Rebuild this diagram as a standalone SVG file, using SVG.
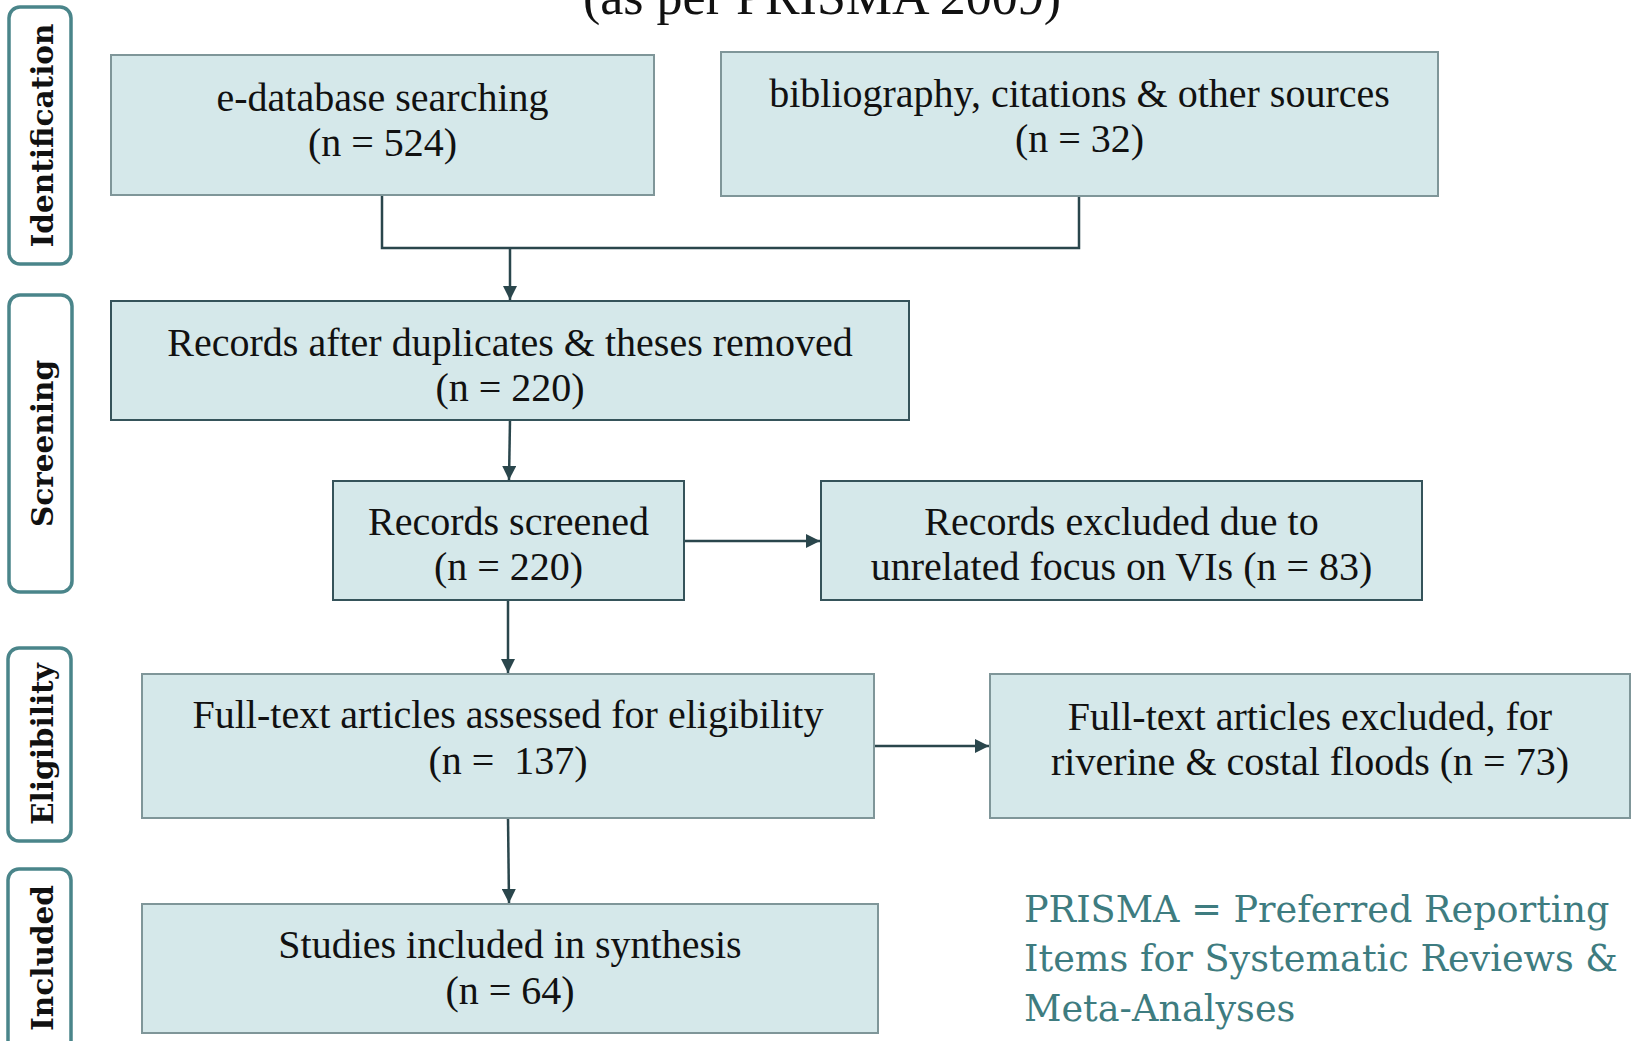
<svg xmlns="http://www.w3.org/2000/svg" width="1633" height="1041" viewBox="0 0 1633 1041">
<style>
  .bg { fill: #ffffff; }
  .box { fill: #d5e8ea; stroke-width: 2; }
  .g { stroke: #7f9699; }
  .d { stroke: #35535a; }
  .t { font-family: "Liberation Serif", "Times New Roman", serif; font-size: 40px; fill: #111111; text-anchor: middle; white-space: pre; }
  .stage { fill: #ffffff; stroke: #4a858a; stroke-width: 3.5; }
  .st { font-family: "DejaVu Serif", Georgia, serif; font-weight: bold; font-size: 29.5px; fill: #111111; text-anchor: middle; }
  .title { font-family: "Liberation Serif", "Times New Roman", serif; font-size: 52px; fill: #111111; text-anchor: middle; }
  .note { font-family: "DejaVu Serif", Georgia, serif; font-size: 36.6px; fill: #3e7c80; }
  .c { fill: none; stroke: #2a464c; stroke-width: 2.5; }
</style>
<defs>
  <marker id="ah" viewBox="0 0 10 10" refX="10" refY="5" markerWidth="6" markerHeight="5.6" markerUnits="strokeWidth" orient="auto">
    <path d="M0,0 L10,5 L0,10 z" fill="#2a464c"/>
  </marker>
</defs>
<rect class="bg" x="0" y="0" width="1633" height="1041"/>

<text class="title" x="822" y="14">(as per PRISMA 2009)</text>

<g id="stage-identification">
  <rect class="stage" x="9" y="7" width="62" height="257" rx="11"/>
  <text class="st" transform="translate(52.5,135.5) rotate(-90)">Identification</text>
</g>
<g id="stage-screening">
  <rect class="stage" x="9" y="295" width="63" height="297" rx="11"/>
  <text class="st" transform="translate(52.5,443.5) rotate(-90)">Screening</text>
</g>
<g id="stage-eligibility">
  <rect class="stage" x="8" y="648" width="63" height="193" rx="11"/>
  <text class="st" transform="translate(52.5,744) rotate(-90)">Eligibility</text>
</g>
<g id="stage-included">
  <rect class="stage" x="8" y="869" width="63" height="185" rx="11"/>
  <text class="st" transform="translate(52.5,958) rotate(-90)">Included</text>
</g>

<g id="connectors">
  <polyline class="c" points="382,195 382,248 1079,248 1079,196"/>
  <line class="c" x1="510" y1="248" x2="510" y2="300" marker-end="url(#ah)"/>
  <line class="c" x1="510" y1="420" x2="509" y2="480" marker-end="url(#ah)"/>
  <line class="c" x1="508" y1="600" x2="508" y2="673" marker-end="url(#ah)"/>
  <line class="c" x1="508" y1="818" x2="509" y2="903" marker-end="url(#ah)"/>
  <line class="c" x1="684" y1="541" x2="820" y2="541" marker-end="url(#ah)"/>
  <line class="c" x1="874" y1="746" x2="989" y2="746" marker-end="url(#ah)"/>
</g>

<g id="node-edatabase">
  <rect class="box g" x="111" y="55" width="543" height="140"/>
  <text class="t" x="382.5" y="111">e-database searching</text>
  <text class="t" x="382.5" y="156">(n = 524)</text>
</g>
<g id="node-bibliography">
  <rect class="box g" x="721" y="52" width="717" height="144"/>
  <text class="t" x="1079.5" y="107">bibliography, citations &amp; other sources</text>
  <text class="t" x="1079.5" y="152">(n = 32)</text>
</g>
<g id="node-dedup">
  <rect class="box d" x="111" y="301" width="798" height="119"/>
  <text class="t" x="510" y="356">Records after duplicates &amp; theses removed</text>
  <text class="t" x="510" y="401">(n = 220)</text>
</g>
<g id="node-screened">
  <rect class="box d" x="333" y="481" width="351" height="119"/>
  <text class="t" x="508.5" y="535">Records screened</text>
  <text class="t" x="508.5" y="580">(n = 220)</text>
</g>
<g id="node-excluded1">
  <rect class="box d" x="821" y="481" width="601" height="119"/>
  <text class="t" x="1121.5" y="535">Records excluded due to</text>
  <text class="t" x="1121.5" y="580">unrelated focus on VIs (n = 83)</text>
</g>
<g id="node-fulltext">
  <rect class="box g" x="142" y="674" width="732" height="144"/>
  <text class="t" x="508" y="728">Full-text articles assessed for eligibility</text>
  <text class="t" x="508" y="774">(n =  137)</text>
</g>
<g id="node-excluded2">
  <rect class="box g" x="990" y="674" width="640" height="144"/>
  <text class="t" x="1310" y="730">Full-text articles excluded, for</text>
  <text class="t" x="1310" y="775">riverine &amp; costal floods (n = 73)</text>
</g>
<g id="node-included">
  <rect class="box g" x="142" y="904" width="736" height="129"/>
  <text class="t" x="510" y="958">Studies included in synthesis</text>
  <text class="t" x="510" y="1004">(n = 64)</text>
</g>

<g id="note">
  <text class="note" x="1024" y="922">PRISMA = Preferred Reporting</text>
  <text class="note" x="1024" y="971">Items for Systematic Reviews &amp;</text>
  <text class="note" x="1024" y="1021">Meta-Analyses</text>
</g>
</svg>
